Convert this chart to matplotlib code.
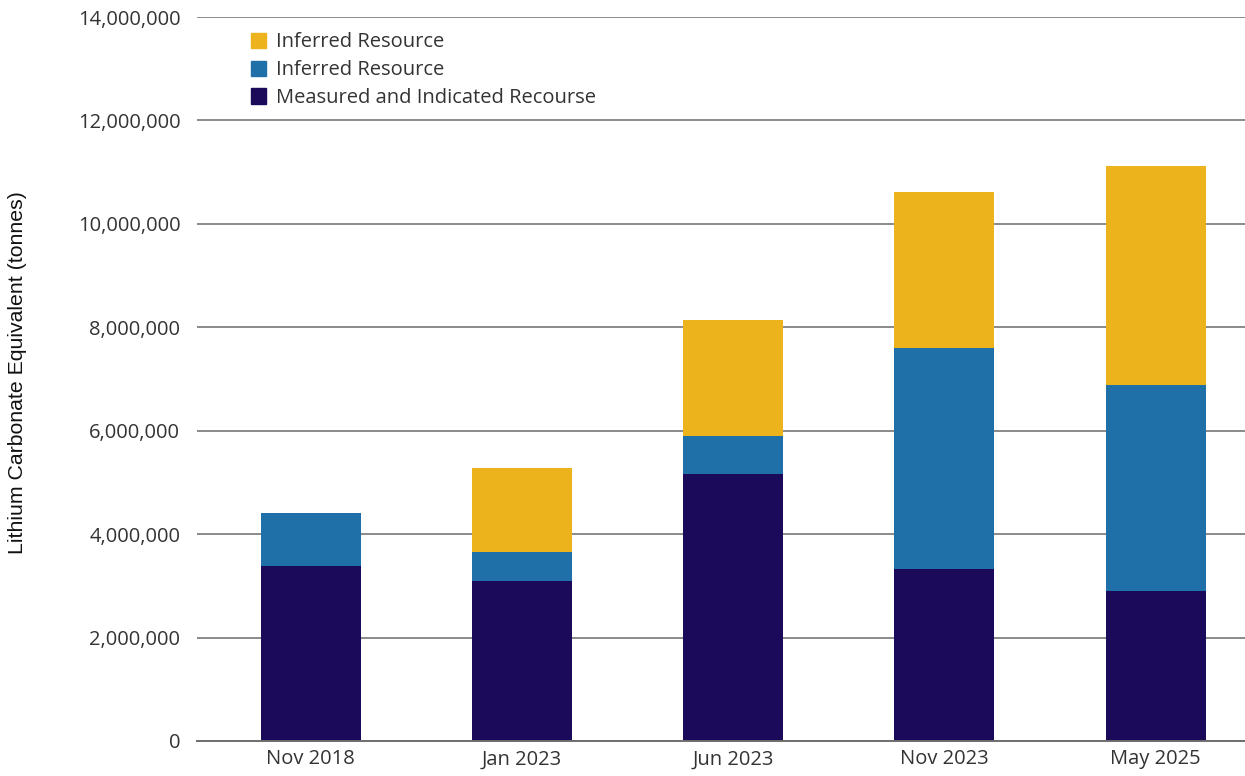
import matplotlib.pyplot as plt
import numpy as np
from matplotlib.ticker import FuncFormatter
from matplotlib.patches import Patch

# resource estimates by date, tonnes LCE
periods = ['Nov 2018', 'Jan 2023', 'Jun 2023', 'Nov 2023', 'May 2025']
measured_indicated = [3380000, 3090000, 5160000, 3330000, 2900000]
inferred_blue = [1030000, 570000, 740000, 4270000, 3990000]
inferred_gold = [0, 1620000, 2240000, 3020000, 4230000]

colors = {'gold': '#ECB31C', 'blue': '#1F70A8', 'navy': '#1B0A5A'}
text_color = '#333333'
font = 'Open Sans'

fig = plt.figure(figsize=(12.45, 7.76), dpi=100)
ax = fig.add_axes([197 / 1245, 35 / 776, 1 - 197 / 1245, (741 - 17) / 776])

x = np.arange(len(periods))
width = 0.4735
mi = np.array(measured_indicated)
ib = np.array(inferred_blue)
ig = np.array(inferred_gold)

ax.bar(x, mi, width, color=colors['navy'], zorder=3)
ax.bar(x, ib, width, bottom=mi, color=colors['blue'], zorder=3)
ax.bar(x, ig, width, bottom=mi + ib, color=colors['gold'], zorder=3)

ax.set_ylim(0, 14000000)
ax.set_xlim(-0.539, 4.423)
ax.set_yticks(np.arange(0, 14000001, 2000000))
ax.yaxis.set_major_formatter(FuncFormatter(lambda v, p: f'{int(v):,}'))
ax.grid(axis='y', color='#8a8a8a', linewidth=1.4, zorder=0)
ax.set_axisbelow(True)
for s in ['top', 'right', 'left']:
    ax.spines[s].set_visible(False)
ax.spines['bottom'].set_color('#6e6e6e')
ax.spines['bottom'].set_linewidth(1.4)
ax.spines['bottom'].set_zorder(4)

ax.set_xticks(x)
ax.set_xticklabels(periods)
ax.tick_params(axis='both', length=0, labelsize=14.5, labelcolor=text_color)
ax.tick_params(axis='y', pad=12)
ax.tick_params(axis='x', pad=6)
for lbl in ax.get_xticklabels() + ax.get_yticklabels():
    lbl.set_fontfamily(font)

fig.text(18 / 1245, 1 - 373 / 776, 'Lithium Carbonate Equivalent (tonnes)',
         rotation=90, ha='center', va='center', fontsize=15.3,
         color='#111111', family='Liberation Sans')

handles = [Patch(color=colors['gold'], label='Inferred Resource'),
           Patch(color=colors['blue'], label='Inferred Resource'),
           Patch(color=colors['navy'], label='Measured and Indicated Recourse')]
leg = ax.legend(handles=handles, loc='upper left', bbox_to_anchor=(0.034, 1.004),
                frameon=False, handlelength=0.78, handleheight=0.78,
                handletextpad=0.45, labelspacing=0.39,
                prop={'family': font, 'size': 14.5})
for t in leg.get_texts():
    t.set_color(text_color)

fig.savefig('out.png', dpi=100)
